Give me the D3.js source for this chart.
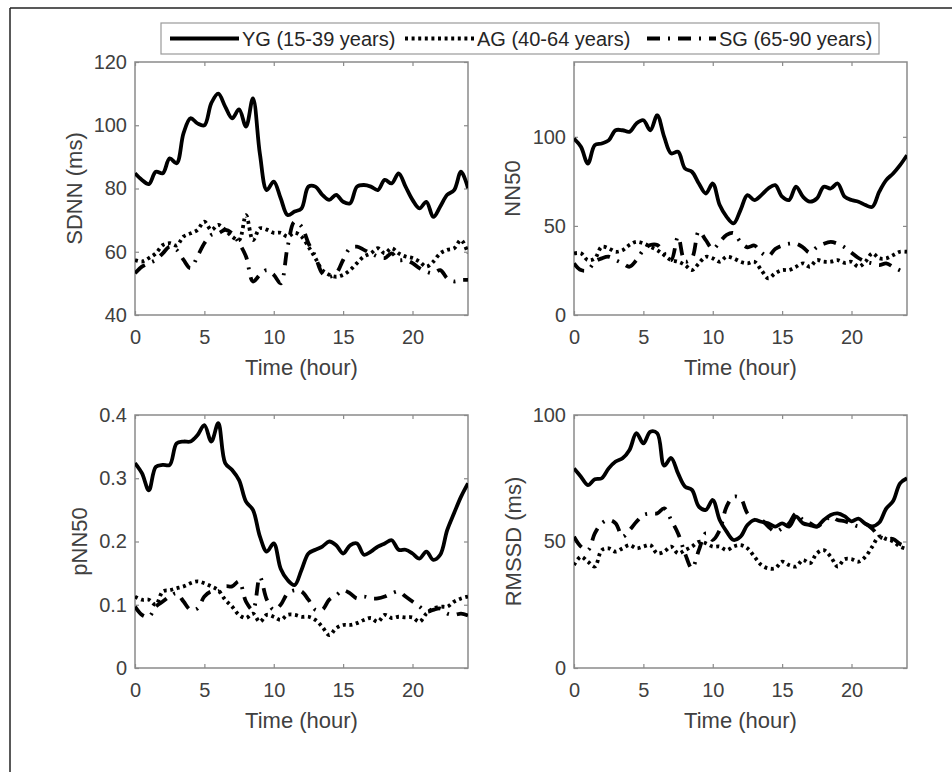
<!DOCTYPE html>
<html>
<head>
<meta charset="utf-8">
<script src="https://cdn.jsdelivr.net/npm/d3@7"></script>
<style>
  body { margin: 0; background: #fff; }
  svg { display: block; font-family: "Liberation Sans", Arial, Helvetica, sans-serif; }
</style>
</head>
<body>
<svg id="chart" width="952" height="772"></svg>
<script>
"use strict";

// time of day (hours), one sample every half hour
var hours = [0, 0.5, 1, 1.5, 2, 2.5, 3, 3.5, 4, 4.5, 5, 5.5, 6, 6.5, 7, 7.5, 8, 8.5, 9, 9.5,
  10, 10.5, 11, 11.5, 12, 12.5, 13, 13.5, 14, 14.5, 15, 15.5, 16, 16.5, 17, 17.5, 18, 18.5, 19, 19.5,
  20, 20.5, 21, 21.5, 22, 22.5, 23, 23.5, 24];

var groups = ["YG (15-39 years)", "AG (40-64 years)", "SG (65-90 years)"];
var xTicks = [0, 5, 10, 15, 20];

// SDNN (ms)
var sdnnYG = [84.8, 82.7, 81.4, 85.3, 84.8, 89.5, 88, 97.5, 102.2, 100.6, 100, 107, 110, 105.9, 102.2, 105, 99.6, 108.5, 91, 79.5,
  82.2, 76.9, 71.6, 72.7, 73.7, 80.6, 80.6, 78, 76.4, 78, 75.8, 75.3, 80.6, 81.1, 80.6, 79.5, 82.7, 81.6, 84.8, 80.6,
  76.4, 73.7, 75.8, 71, 74.3, 78, 79.5, 85.3, 80.1];
var sdnnAG = [57.4, 56.9, 58, 59.5, 62.1, 62.7, 62, 64.8, 65.8, 66.9, 69.5, 66.9, 68.5, 66.9, 64.8, 63.7, 71.6, 63.7, 67.4, 67,
  66, 66, 64.8, 66, 64.8, 61.6, 58, 54.2, 52.7, 52.1, 52.7, 54.2, 56.4, 58.5, 59.5, 61.1, 59.5, 61.1, 59.5, 58.5,
  58, 56.9, 55.3, 56.9, 59.5, 60.6, 61.1, 63.7, 59.5];
var sdnnSG = [53.2, 55.3, 56.4, 57.4, 59.5, 61.6, 60.6, 57.4, 54.8, 58.5, 62.7, 65.3, 65.8, 66.9, 65.8, 62.7, 58.5, 50.6, 52.7, 54.2,
  52.7, 50, 61.6, 69.5, 68, 62.7, 58.5, 53.2, 52.1, 53.2, 57.4, 61.1, 61.6, 60.6, 59.5, 58.5, 58, 59.5, 57.4, 57.4,
  56.4, 54.8, 53.7, 53.2, 54.2, 51.6, 50.6, 51.1, 51.1];

// NN50
var nn50YG = [99, 94.4, 85, 95.3, 96.3, 98, 103.7, 103.7, 102.8, 107.5, 109.3, 103.7, 112.1, 100, 90.7, 91.6, 82.2, 80.4, 73.8, 68.2,
  73.8, 61.7, 55.1, 51.4, 58.9, 67.3, 64.5, 67.3, 71, 72.9, 66.4, 64.5, 72, 66.4, 63.6, 65.4, 72, 71, 73.8, 66.4,
  64.5, 63.6, 61.7, 60.7, 69.2, 75.7, 79.4, 84.1, 89.7];
var nn50AG = [34.6, 34.6, 30.8, 31.8, 38.3, 37.4, 35.5, 36.4, 39.3, 41.1, 40.2, 38.3, 36.4, 33.6, 30.8, 29.9, 28, 25.2, 29, 32.7,
  31.8, 29.9, 32.7, 31.8, 29.9, 29, 29.9, 25.2, 20.6, 23.4, 25.2, 25.2, 27.1, 29, 27.1, 30.8, 29.9, 29.9, 30.8, 29.3,
  29.9, 27.1, 29.9, 34.6, 31.8, 31.8, 33.6, 35.5, 35.5];
var nn50SG = [29, 25.2, 25.2, 29.9, 31.8, 32.7, 30.8, 29, 27.1, 30.8, 36.4, 39.3, 39.3, 34.6, 30.8, 43.9, 30, 32, 47, 42,
  37, 41, 45, 46, 41, 38, 39, 35, 33, 37, 39, 40, 40, 38, 35, 38, 40, 41, 40, 38,
  35, 32, 30, 29, 28, 29, 27, 25, 23];

// pNN50
var pnn50YG = [0.324, 0.308, 0.281, 0.318, 0.321, 0.321, 0.355, 0.358, 0.358, 0.368, 0.384, 0.358, 0.387, 0.324, 0.313, 0.297, 0.263, 0.25, 0.208, 0.184,
  0.197, 0.157, 0.139, 0.131, 0.155, 0.181, 0.187, 0.192, 0.2, 0.194, 0.181, 0.194, 0.197, 0.179, 0.184, 0.192, 0.197, 0.202, 0.187, 0.187,
  0.181, 0.173, 0.184, 0.171, 0.179, 0.218, 0.245, 0.271, 0.292];
var pnn50AG = [0.113, 0.108, 0.108, 0.1, 0.121, 0.123, 0.126, 0.129, 0.134, 0.137, 0.134, 0.129, 0.123, 0.108, 0.097, 0.084, 0.079, 0.086, 0.073, 0.084,
  0.081, 0.076, 0.084, 0.084, 0.081, 0.081, 0.076, 0.065, 0.052, 0.063, 0.068, 0.068, 0.071, 0.076, 0.079, 0.073, 0.084, 0.079, 0.081, 0.08,
  0.08, 0.073, 0.086, 0.094, 0.097, 0.097, 0.105, 0.11, 0.113];
var pnn50SG = [0.097, 0.084, 0.081, 0.097, 0.105, 0.113, 0.118, 0.105, 0.092, 0.094, 0.113, 0.121, 0.121, 0.129, 0.129, 0.137, 0.105, 0.092, 0.144, 0.108,
  0.092, 0.1, 0.118, 0.123, 0.121, 0.108, 0.092, 0.092, 0.108, 0.115, 0.123, 0.118, 0.11, 0.113, 0.11, 0.11, 0.113, 0.118, 0.121, 0.113,
  0.105, 0.097, 0.089, 0.092, 0.094, 0.086, 0.084, 0.086, 0.083];

// RMSSD (ms)
var rmssdYG = [78.9, 75.6, 72.3, 74.6, 75, 78.9, 81.6, 82.9, 86.2, 92.8, 88.8, 93.4, 92.8, 80, 83, 76.9, 71.7, 70.4, 63.8, 62.5,
  66.4, 58.5, 53.9, 50.6, 51.9, 56.5, 58.5, 57.8, 57.2, 55.9, 57.2, 55.9, 59.8, 57.2, 56.5, 55.9, 58.5, 60.5, 61.1, 60,
  58, 59, 57, 56, 57.5, 63, 66, 73, 75];
var rmssdAG = [40.7, 44, 42, 40.1, 46.6, 47.3, 46, 47.3, 48.6, 47.3, 48, 48.6, 45.3, 46, 48, 45.3, 46.6, 48, 49.9, 49.3,
  48, 48, 46.6, 48, 48.6, 47.3, 44, 40.7, 39.4, 39.4, 42, 40.7, 40.1, 42.7, 41.4, 45.3, 46.6, 44, 40.1, 43,
  43, 42, 44, 48, 52, 51, 50, 48, 47];
var rmssdSG = [51.9, 48, 46.6, 53.2, 57.2, 58.5, 57.2, 51.9, 54.5, 57.8, 60.5, 61.1, 61.1, 63.1, 58.5, 53.2, 45.3, 39.4, 46.6, 53.2,
  50.6, 54.5, 63.8, 67.7, 67.1, 61.1, 58.5, 58.5, 55.9, 53.9, 55.2, 57.2, 61.1, 58.5, 57.2, 55.9, 57.8, 59.8, 58.5, 58,
  57, 56, 57, 55, 52, 51, 51, 49, 48];

var panels = [
  {label: "SDNN (ms)", domain: [40, 120], ticks: [40, 60, 80, 100, 120], series: [sdnnYG, sdnnAG, sdnnSG], col: 0, row: 0, labelOff: 61},
  {label: "NN50", domain: [0, 142], ticks: [0, 50, 100], series: [nn50YG, nn50AG, nn50SG], col: 1, row: 0, labelOff: 62},
  {label: "pNN50", domain: [0, 0.4], ticks: [0, 0.1, 0.2, 0.3, 0.4], series: [pnn50YG, pnn50AG, pnn50SG], col: 0, row: 1, labelOff: 56},
  {label: "RMSSD (ms)", domain: [0, 100], ticks: [0, 50, 100], series: [rmssdYG, rmssdAG, rmssdSG], col: 1, row: 1, labelOff: 61}
];

// solid / dotted / dash-dot (the dot is tiny in the source image)
var dashes = [null, "3,3.6", "13,8,2,8"];
var colLeft = [135, 574], rowTop = [62, 415];
var pw = 333, ph = 253;
var axisColor = "#8a8a8a", textColor = "#404040";

var svg = d3.select("#chart");

// outer frame (top and left edges only are visible)
svg.append("line").attr("x1", 10).attr("y1", 8).attr("x2", 952).attr("y2", 8)
  .attr("stroke", "#222").attr("stroke-width", 1.5);
svg.append("line").attr("x1", 10).attr("y1", 8).attr("x2", 10).attr("y2", 772)
  .attr("stroke", "#222").attr("stroke-width", 1.5);

var x = d3.scaleLinear().domain([0, 24]).range([0, pw]);

function styleAxis(g) {
  g.select(".domain").remove();
  g.selectAll(".tick line").attr("stroke", axisColor).attr("stroke-width", 1.2);
  g.selectAll(".tick text").attr("fill", textColor)
    .style("font-size", "20px")
    .style("font-family", "'Liberation Sans', Arial, Helvetica, sans-serif");
}

panels.forEach(function(p, i) {
  var left = colLeft[p.col], top = rowTop[p.row];
  var y = d3.scaleLinear().domain(p.domain).range([ph, 0]);
  var g = svg.append("g").attr("transform", "translate(" + left + "," + top + ")");

  g.append("defs").append("clipPath").attr("id", "clip" + i)
    .append("rect").attr("width", pw).attr("height", ph);

  var fmt = function(d) { return d === 0 ? "0" : String(d); };

  g.append("g").attr("transform", "translate(0," + ph + ")")
    .call(d3.axisBottom(x).tickValues(xTicks).tickSizeInner(-4).tickSizeOuter(0).tickPadding(15))
    .call(styleAxis);
  g.append("g")
    .call(d3.axisTop(x).tickValues(xTicks).tickSizeInner(-4).tickSizeOuter(0).tickFormat(""))
    .call(styleAxis);
  g.append("g")
    .call(d3.axisLeft(y).tickValues(p.ticks).tickSizeInner(-4).tickSizeOuter(0).tickPadding(8).tickFormat(fmt))
    .call(styleAxis);
  g.append("g").attr("transform", "translate(" + pw + ",0)")
    .call(d3.axisRight(y).tickValues(p.ticks).tickSizeInner(-4).tickSizeOuter(0).tickFormat(""))
    .call(styleAxis);

  g.append("rect").attr("width", pw).attr("height", ph)
    .attr("fill", "none").attr("stroke", axisColor).attr("stroke-width", 1.5);

  var line = d3.line()
    .x(function(d, k) { return x(hours[k]); })
    .y(function(d) { return y(d); })
    .curve(d3.curveCatmullRom.alpha(0.5));

  var lines = g.append("g").attr("clip-path", "url(#clip" + i + ")");
  // draw SG first, then AG, then YG on top
  [2, 1, 0].forEach(function(s) {
    lines.append("path")
      .datum(p.series[s])
      .attr("d", line)
      .attr("fill", "none")
      .attr("stroke", "#000")
      .attr("stroke-width", 3.8)
      .attr("stroke-linejoin", "round")
      .attr("stroke-dasharray", dashes[s]);
  });

  g.append("text")
    .attr("x", pw / 2).attr("y", ph + 60)
    .attr("text-anchor", "middle")
    .attr("fill", textColor)
    .style("font-size", "22px")
    .text("Time (hour)");

  g.append("text")
    .attr("transform", "translate(" + (-p.labelOff) + "," + (ph / 2) + ") rotate(-90)")
    .attr("dy", "0.35em")
    .attr("text-anchor", "middle")
    .attr("fill", textColor)
    .style("font-size", "22px")
    .text(p.label);
});

// legend
var legend = svg.append("g");
legend.append("rect").attr("x", 161).attr("y", 23).attr("width", 718).attr("height", 31)
  .attr("fill", "#fff").attr("stroke", "#9a9a9a").attr("stroke-width", 1.2);
var itemX = [170, 405, 647];
groups.forEach(function(name, s) {
  legend.append("line")
    .attr("x1", itemX[s]).attr("x2", itemX[s] + 69)
    .attr("y1", 38.5).attr("y2", 38.5)
    .attr("stroke", "#000").attr("stroke-width", 3.8)
    .attr("stroke-dasharray", dashes[s]);
  legend.append("text")
    .attr("x", itemX[s] + 72).attr("y", 45.5)
    .attr("fill", "#262626")
    .style("font-size", "20px")
    .text(name);
});
</script>
</body>
</html>
